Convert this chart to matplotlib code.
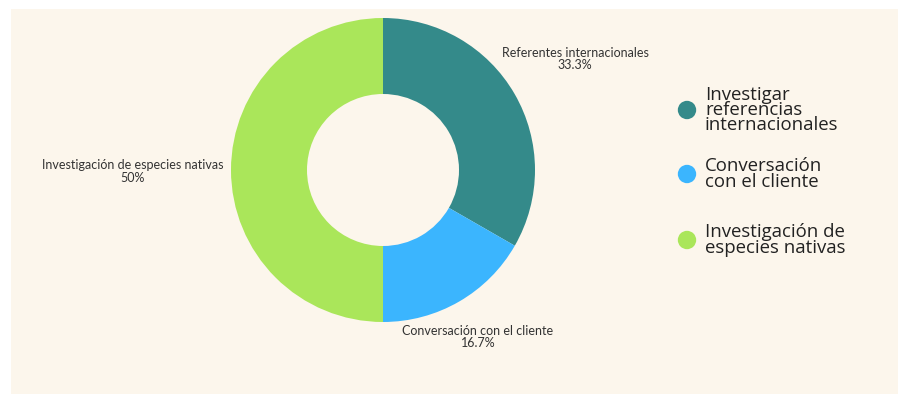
import matplotlib
matplotlib.use("Agg")
import matplotlib.pyplot as plt
from matplotlib.patches import Rectangle
import numpy as np

# data
categories = ["Referentes internacionales", "Conversación con el cliente", "Investigación de especies nativas"]
values = [33.3, 16.7, 50.0]
pct_labels = ["33.3%", "16.7%", "50%"]
legend_labels = ["Investigar\nreferencias\ninternacionales", "Conversación\ncon el cliente", "Investigación de\nespecies nativas"]
colors = ["#348A8A", "#3BB5FE", "#AAE65A"]

W, H = 898, 394
fig = plt.figure(figsize=(W / 100, H / 100), dpi=100, facecolor="white")
bg = "#FCF6EC"
fig.patches.append(Rectangle((11 / W, 0), 1 - 11 / W, 1 - 9 / H, transform=fig.transFigure,
                             facecolor=bg, edgecolor="none", zorder=-10))

cx, cy, R = 383, 170, 152
ax = fig.add_axes([(cx - R) / W, (H - cy - R) / H, 2 * R / W, 2 * R / H])
ax.set_facecolor("none")
wedges, _ = ax.pie(values, colors=colors, startangle=90, counterclock=False, radius=1.0,
                   wedgeprops=dict(width=0.5, edgecolor="none"))
ax.set_xlim(-1, 1)
ax.set_ylim(-1, 1)
ax.set_aspect("equal")
ax.axis("off")

label_font = ["Lato", "DejaVu Sans"]
label_pos = [(1.263, 0.73), (0.625, -1.10), (-1.648, -0.01)]
for (x, y), cat, p in zip(label_pos, categories, pct_labels):
    ax.text(x, y, f"{cat}\n{p}", ha="center", va="center", fontsize=9.0, color="#333333",
            family=label_font, linespacing=1.05, clip_on=False)

# legend drawn in pixel coordinates
lax = fig.add_axes([0, 0, 1, 1])
lax.set_xlim(0, W)
lax.set_ylim(H, 0)
lax.axis("off")
lax.set_facecolor("none")
leg_y = [110, 174, 240]
for yy, lab, c in zip(leg_y, legend_labels, colors):
    lax.scatter([687], [yy], s=175, color=c, edgecolors="none")
    lax.text(705, yy, lab, ha="left", va="center", fontsize=13.4, color="#222222",
             family=["Open Sans", "DejaVu Sans"], linespacing=0.82)

fig.savefig("out.png", dpi=100, facecolor="white")
